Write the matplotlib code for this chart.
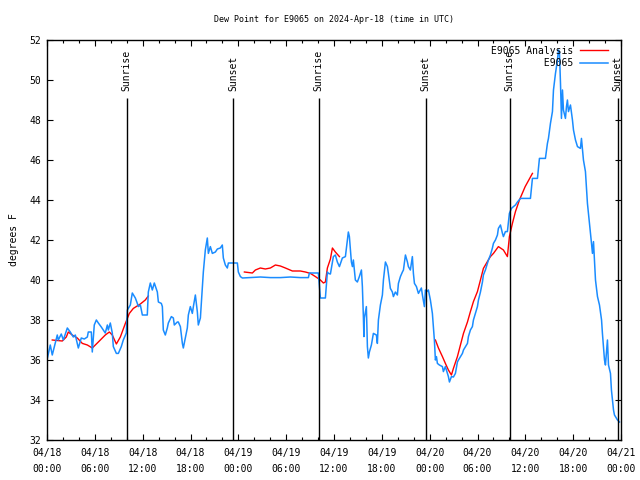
import numpy as np
import matplotlib
matplotlib.use("Agg")
import matplotlib.pyplot as plt
import matplotlib.dates as mdates
from datetime import datetime, timedelta

# ---- data (hours since 2024-04-18 00:00 UTC, dew point in F) ----
obs_hours = [0.0, 0.41, 0.66, 0.92, 1.29, 1.42, 1.79, 2.05, 2.55, 2.92, 3.30, 3.55, 3.93, 4.30, 4.68,
             5.06, 5.18, 5.56, 5.68, 5.93, 6.19, 6.44, 6.81, 7.06, 7.31, 7.57, 7.69, 7.94, 8.19, 8.32,
             8.70, 8.95, 9.32, 9.57, 9.95, 10.08, 10.45, 10.70, 11.08, 11.33, 11.46, 11.71, 11.96, 12.58,
             12.71, 12.96, 13.21, 13.46, 13.84, 13.97, 14.34, 14.47, 14.59, 14.84, 15.09, 15.22, 15.60,
             15.85, 15.97, 16.35, 16.47, 16.73, 16.98, 17.10, 17.35, 17.60, 17.73, 17.98, 18.23, 18.36,
             18.61, 18.86, 18.98, 19.24, 19.49, 19.61, 19.86, 20.11, 20.24, 20.49, 20.74, 21.12, 21.37,
             21.74, 21.99, 22.12, 22.37, 22.62, 22.75, 23.63, 23.88, 24.00, 24.26, 24.51, 25.51, 26.76,
             28.02, 29.27, 30.53, 31.78, 32.79, 32.91, 34.04, 34.17, 34.29, 34.92, 35.17, 35.29, 35.55,
             35.92, 36.17, 36.42, 36.68, 37.05, 37.43, 37.68, 37.80, 37.93, 38.18, 38.31, 38.43, 38.68,
             38.93, 39.18, 39.44, 39.56, 39.69, 39.75, 39.81, 40.06, 40.19, 40.31, 40.44, 40.69, 40.94,
             41.32, 41.44, 41.57, 41.82, 42.07, 42.20, 42.45, 42.70, 42.82, 43.07, 43.32, 43.45, 43.70,
             43.95, 44.08, 44.33, 44.58, 44.71, 44.96, 45.21, 45.33, 45.58, 45.83, 45.96, 46.09, 46.34,
             46.59, 46.96, 47.09, 47.34, 47.47, 47.59, 47.84, 48.09, 48.34, 48.47, 48.59, 48.72, 48.85,
             48.97, 49.22, 49.60, 49.72, 49.97, 50.23, 50.35, 50.48, 50.73, 50.98, 51.23, 51.48, 51.61,
             51.86, 52.11, 52.24, 52.74, 52.86, 53.11, 53.36, 53.49, 53.74, 53.99, 54.12, 54.37, 54.62,
             54.74, 54.99, 55.24, 55.37, 55.62, 55.87, 56.00, 56.25, 56.50, 56.62, 56.88, 57.13, 57.25,
             57.50, 57.75, 57.88, 58.00, 58.26, 58.51, 58.76, 59.01, 59.39, 60.64, 60.89, 61.52, 61.77,
             62.52, 62.77, 62.90, 63.15, 63.40, 63.53, 63.78, 64.03, 64.15, 64.28, 64.41, 64.53, 64.66,
             64.78, 65.03, 65.16, 65.28, 65.41, 65.66, 65.91, 66.04, 66.29, 66.54, 66.91, 67.04, 67.29,
             67.54, 67.79, 68.05, 68.30, 68.42, 68.55, 68.80, 69.05, 69.30, 69.56, 69.67, 69.93, 70.05,
             70.30, 70.43, 70.68, 70.80, 71.06, 71.18, 71.56, 71.81]
obs_dewpt = [36.0, 36.75, 36.25, 36.67, 37.25, 37.0, 37.3, 37.0, 37.6, 37.4, 37.15, 37.25, 36.6, 37.1, 37.05,
             37.15, 37.4, 37.4, 36.4, 37.75, 38.0, 37.85, 37.65, 37.5, 37.35, 37.75, 37.5, 37.85, 37.35, 36.67,
             36.33, 36.33, 36.67, 37.0, 37.35, 38.5, 38.75, 39.35, 39.1, 38.83, 38.67, 38.75, 38.25, 38.25,
             39.4, 39.85, 39.5, 39.85, 39.4, 38.9, 38.83, 38.67, 37.5, 37.25, 37.6, 37.85, 38.17,
             38.1, 37.75, 37.9, 37.9, 37.67, 36.83, 36.6, 37.1, 37.6, 38.25, 38.67, 38.33, 38.67,
             39.25, 38.4, 37.75, 38.1, 39.6, 40.4, 41.5, 42.1, 41.33, 41.67, 41.33, 41.4, 41.55,
             41.6, 41.75, 41.1, 40.75, 40.6, 40.85, 40.85, 40.85, 40.4, 40.17, 40.1, 40.12, 40.15,
             40.12, 40.12, 40.15, 40.12, 40.12, 40.35, 40.35, 39.67, 39.1, 39.1, 40.4, 40.33, 40.3,
             41.17, 41.25, 40.9, 40.67, 41.1, 41.17, 42.0, 42.4, 42.17, 40.9, 40.67, 41.0, 40.0,
             39.9, 40.17, 40.5, 39.67, 38.1, 37.17, 38.1, 38.67, 36.67, 36.1, 36.4, 36.75, 37.33,
             37.25, 36.83, 38.0, 38.75, 39.25, 40.0, 40.9, 40.67, 40.33, 39.58, 39.4, 39.17, 39.4,
             39.25, 39.83, 40.17, 40.4, 40.5, 41.25, 40.9, 40.67, 40.5, 41.17, 40.33, 39.83, 39.67,
             39.33, 39.6, 39.25, 38.67, 39.5, 39.4, 39.5, 39.0, 38.33, 37.6, 37.0, 36.0, 36.17,
             35.83, 35.75, 35.67, 35.42, 35.67, 35.33, 35.17, 34.9, 35.17, 35.15, 35.33, 35.9, 36.0,
             36.17, 36.33, 36.5, 36.83, 37.17, 37.5, 37.67, 38.0, 38.33, 38.67, 39.0, 39.4, 39.9,
             40.25, 40.5, 40.83, 41.0, 41.25, 41.6, 41.83, 42.0, 42.25, 42.58, 42.75, 42.33, 42.17,
             42.42, 42.42, 42.9, 43.33, 43.58, 43.67, 43.75, 43.9, 44.08, 44.08, 45.08, 45.08, 46.08,
             46.08, 46.83, 47.08, 47.83, 48.42, 49.5, 50.33, 51.0, 51.5, 51.4, 49.83, 48.08, 49.5,
             48.5, 48.08, 48.67, 49.0, 48.42, 48.75, 48.0, 47.5, 47.0, 46.67, 46.58, 47.08, 46.0,
             45.42, 43.83, 42.83, 41.83, 41.33, 41.92, 40.0, 39.17, 38.75, 38.0, 37.33, 36.0, 35.75,
             37.0, 35.75, 35.33, 34.5, 33.5, 33.25, 33.0, 32.9]

ana_hours = [0.66, 1.92, 2.42, 2.67, 3.17, 3.80, 4.43, 5.06, 5.68, 6.44, 7.31, 7.82, 8.19, 8.70, 9.20,
             9.83, 10.33, 10.83, 11.71, 12.33, 12.71, 18.0,
             24.76, 25.76, 26.14, 26.76, 27.39, 28.02, 28.65, 29.27, 29.90, 30.78, 31.78, 32.41, 33.04,
             33.67, 34.29, 34.67, 34.92, 35.17, 35.55, 35.80, 36.17, 36.68, 42.0,
             48.72, 49.10, 49.60, 49.97, 50.35, 50.73, 50.98, 51.48, 51.86, 52.24, 52.74, 53.11, 53.49,
             53.99, 54.37, 54.74, 55.24, 55.62, 56.00, 56.62, 57.25, 57.75, 58.00, 58.38, 58.76, 59.26,
             59.98, 60.89]
ana_dewpt = [37.0, 36.95, 37.15, 37.4, 37.25, 37.1, 36.83, 36.75, 36.6, 36.9, 37.25, 37.4, 37.25, 36.8, 37.15,
             37.83, 38.33, 38.58, 38.8, 39.0, 39.2, np.nan,
             40.4, 40.35, 40.5, 40.6, 40.55, 40.6, 40.75, 40.7, 40.6, 40.45, 40.45, 40.4, 40.33,
             40.17, 40.0, 39.85, 39.9, 40.6, 41.05, 41.6, 41.4, 41.17, np.nan,
             37.0, 36.6, 36.17, 35.83, 35.5, 35.25, 35.58, 36.17, 36.75, 37.33, 37.9, 38.42, 38.92,
             39.42, 40.0, 40.58, 40.92, 41.17, 41.33, 41.67, 41.5, 41.17, 42.17, 42.83, 43.42, 44.0,
             44.67, 45.33]

event_hours = [10.0, 23.38, 34.07, 47.5, 58.03, 71.6]
event_names = ["Sunrise", "Sunset", "Sunrise", "Sunset", "Sunrise", "Sunset"]

title = "Dew Point for E9065 on 2024-Apr-18 (time in UTC)"
ylabel = "degrees F"
series_names = ["E9065 Analysis", "E9065"]

# ---- plotting ----
base = datetime(2024, 4, 18, 0, 0)
to_dt = lambda hs: [base + timedelta(hours=float(h)) for h in hs]

mono = "DejaVu Sans Mono"
plt.rcParams["font.family"] = mono

fig = plt.figure(figsize=(6.4, 4.8), dpi=100)
ax = fig.add_axes([47 / 640, 40 / 480, 574 / 640, 400 / 480])

ax.plot(to_dt(ana_hours), ana_dewpt, color="#ff0000", lw=1.0, label=series_names[0])
ax.plot(to_dt(obs_hours), obs_dewpt, color="#1a8cff", lw=1.1, label=series_names[1])

ax.set_xlim(base, base + timedelta(hours=72))
ax.set_ylim(32, 52)
ax.set_yticks(np.arange(32, 53, 2))

ev_dt = to_dt(event_hours)
ax.vlines(ev_dt, 32, 49.1, color="black", lw=1.0)
for t, name in zip(ev_dt, event_names):
    ax.text(t, 49.45, name, rotation=90, ha="center", va="bottom", fontsize=7)

ax.xaxis.set_major_locator(mdates.HourLocator(byhour=[0, 6, 12, 18]))
ax.xaxis.set_minor_locator(mdates.HourLocator(interval=2))
ax.xaxis.set_major_formatter(mdates.DateFormatter("%m/%d\n%H:%M"))

ax.tick_params(axis="both", which="both", direction="in", top=True, right=True,
               labelsize=7, width=0.8)
ax.tick_params(axis="both", which="major", length=4.5, pad=4)
ax.tick_params(axis="x", which="major", pad=6)
ax.tick_params(axis="x", which="minor", length=2.5)
plt.setp(ax.get_xticklabels(), linespacing=1.7)

for sp in ax.spines.values():
    sp.set_linewidth(1.0)
    sp.set_color("black")

ax.set_ylabel(ylabel, fontsize=7, labelpad=8)
fig.text(334 / 640, 1 - 19 / 480, title, ha="center", va="center", fontsize=6)

h, l = ax.get_legend_handles_labels()
w = max(len(s) for s in l)
leg = ax.legend(h, [s.rjust(w) for s in l], loc="upper right", bbox_to_anchor=(1 - 7 / 574, 1.0),
                frameon=False, markerfirst=False,
                handlelength=2.9, handletextpad=0.7, labelspacing=0.25,
                borderaxespad=0.3, borderpad=0.3, prop={"family": mono, "size": 7})

fig.savefig("out.png", dpi=100)
